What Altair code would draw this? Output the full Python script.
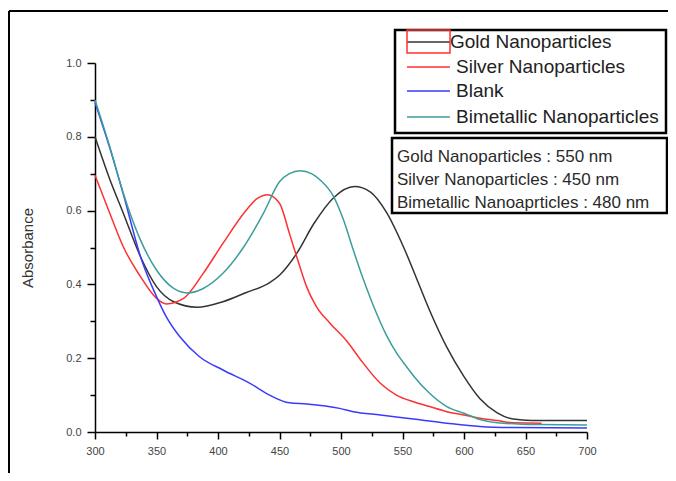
import altair as alt
import pandas as pd

# ---- data ----
gold_wl = [300, 312, 323, 337, 350, 364, 383, 404, 423, 442, 450, 464, 478, 494, 511, 524, 537, 551, 564, 572, 586, 600, 613, 627, 640, 655, 700]
gold_abs = [0.800, 0.685, 0.593, 0.475, 0.394, 0.353, 0.338, 0.353, 0.378, 0.405, 0.425, 0.484, 0.565, 0.635, 0.665, 0.650, 0.595, 0.500, 0.395, 0.330, 0.230, 0.150, 0.090, 0.052, 0.035, 0.031, 0.031]

silver_wl = [300, 312, 323, 337, 350, 358, 372, 388, 404, 421, 432, 440, 450, 458, 464, 472, 480, 491, 505, 515, 532, 545, 559, 572, 586, 600, 613, 627, 640, 663]
silver_abs = [0.696, 0.593, 0.502, 0.421, 0.362, 0.347, 0.362, 0.430, 0.511, 0.593, 0.633, 0.643, 0.620, 0.539, 0.475, 0.394, 0.340, 0.295, 0.245, 0.200, 0.132, 0.100, 0.082, 0.069, 0.055, 0.046, 0.037, 0.031, 0.025, 0.024]

blank_wl = [300, 312, 323, 337, 350, 358, 369, 385, 404, 426, 442, 458, 472, 499, 510, 532, 559, 586, 613, 640, 700]
blank_abs = [0.893, 0.770, 0.645, 0.475, 0.367, 0.312, 0.258, 0.204, 0.168, 0.132, 0.100, 0.079, 0.076, 0.064, 0.055, 0.046, 0.035, 0.024, 0.015, 0.012, 0.011]

bimet_wl = [300, 312, 323, 337, 350, 364, 375, 388, 404, 421, 437, 450, 458, 467, 476, 483, 494, 502, 510, 518, 526, 537, 545, 553, 559, 572, 586, 600, 613, 627, 660, 700]
bimet_abs = [0.900, 0.773, 0.647, 0.520, 0.439, 0.389, 0.377, 0.389, 0.430, 0.502, 0.593, 0.678, 0.700, 0.708, 0.700, 0.683, 0.638, 0.575, 0.493, 0.415, 0.345, 0.262, 0.215, 0.178, 0.152, 0.105, 0.069, 0.051, 0.034, 0.025, 0.020, 0.019]

series_names = ["Gold Nanoparticles", "Silver Nanoparticles", "Blank", "Bimetallic Nanoparticles"]
series_colors = ["#333333", "#ff3030", "#3a3aff", "#3a9e9a"]
notes = ["Gold Nanoparticles : 550 nm", "Silver Nanoparticles : 450 nm", "Bimetallic Nanoaprticles : 480 nm"]

x_ticks = list(range(300, 701, 25))
y_ticks = [round(i * 0.1, 1) for i in range(11)]

rows = []
for name, wl, ab in zip(series_names, [gold_wl, silver_wl, blank_wl, bimet_wl],
                        [gold_abs, silver_abs, blank_abs, bimet_abs]):
    for w, a in zip(wl, ab):
        rows.append({"series": name, "wl": w, "abs": a})
df = pd.DataFrame(rows)

FONT = "Liberation Sans"

x_enc = alt.X("wl:Q", scale=alt.Scale(domain=[300, 700], nice=False, zero=False),
              axis=alt.Axis(values=x_ticks, title=None, grid=False,
                            labelExpr="datum.value % 50 == 0 ? datum.label : ''",
                            tickSize={"condition": {"test": "datum.value % 50 == 0", "value": 7}, "value": 4},
                            domainColor="black", domainWidth=1.5, tickColor="black", tickWidth=1.5,
                            labelFont=FONT, labelFontSize=11, labelColor="#444", labelPadding=6,
                            labelFlush=False, labelOverlap=False))
y_enc = alt.Y("abs:Q", scale=alt.Scale(domain=[0, 1], nice=False),
              axis=alt.Axis(values=y_ticks, format=".1f", title="Absorbance", grid=False,
                            labelExpr="round(datum.value*10) % 2 == 0 ? datum.label : ''",
                            tickSize={"condition": {"test": "round(datum.value*10) % 2 == 0", "value": 8}, "value": 5},
                            domainColor="black", domainWidth=1.5, tickColor="black", tickWidth=1.5,
                            labelFont=FONT, labelFontSize=11, labelColor="#444", labelPadding=6,
                            labelOverlap=False, labelFlush=False,
                            titleFont=FONT, titleFontSize=15, titleFontWeight="normal",
                            titleColor="#333", titlePadding=30))

lines = []
for name, col in zip(series_names, series_colors):
    lines.append(
        alt.Chart(df[df.series == name]).mark_line(color=col, strokeWidth=1.5, interpolate="monotone")
        .encode(x=x_enc, y=y_enc)
    )

one = pd.DataFrame({"k": [0]})


def rule(x1, x2, y1, y2, color, w):
    return alt.Chart(one).mark_rule(color=color, strokeWidth=w).encode(
        x=alt.value(x1), x2=alt.value(x2), y=alt.value(y1), y2=alt.value(y2))


def box(x1, x2, y1, y2, color, w, fill="white"):
    return alt.Chart(one).mark_rect(fill=fill, stroke=color, strokeWidth=w).encode(
        x=alt.value(x1), x2=alt.value(x2), y=alt.value(y1), y2=alt.value(y2))


def label(x, y, text, size, color="#222"):
    return alt.Chart(one).mark_text(align="left", baseline="middle", font=FONT,
                                    fontSize=size, color=color).encode(
        x=alt.value(x), y=alt.value(y), text=alt.value(text))


decor = []
# outer frame (left and top edges)
decor.append(rule(-86, -86, -52, 420, "black", 2))
decor.append(rule(-86, 590, -52, -52, "black", 2))
# legend box
decor.append(box(300, 571, -33, 70, "black", 2.5))
legend_rows = [-21, 4, 28, 54]
for i, (name, col) in enumerate(zip(series_names, series_colors)):
    decor.append(rule(312, 355, legend_rows[i], legend_rows[i], col, 1.5))
    decor.append(label(355 if i == 0 else 361, legend_rows[i], name, 19))
decor.append(box(312, 355, -33, -10, "#ff3030", 1.5, fill="transparent"))
# annotation box
decor.append(box(297, 572, 75, 150, "black", 2.5))
for i, t in enumerate(notes):
    decor.append(label(302, 94 + 23 * i, t, 17, "#2a2a2a"))

chart = alt.layer(*lines, *decor).properties(
    width=492, height=369,
    padding={"left": 87, "top": 55, "right": 81, "bottom": 41},
    autosize=alt.AutoSizeParams(type="none"),
    background="white",
).configure_view(stroke=None)

chart.save("out.html", embed_options={"renderer": "svg", "actions": False})
